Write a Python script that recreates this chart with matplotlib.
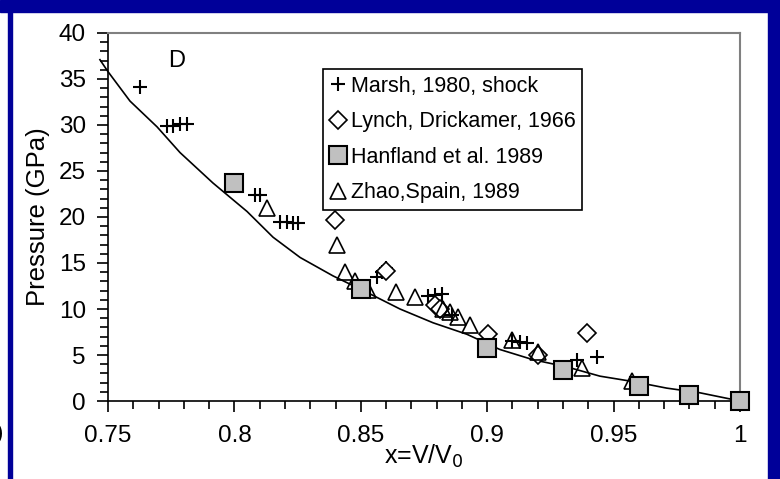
import matplotlib.pyplot as plt
from matplotlib.patches import Rectangle
from matplotlib.ticker import MultipleLocator

plt.rcParams['font.family'] = ['Liberation Sans', 'DejaVu Sans']

# fitted curve
curve_x = [0.7468, 0.75, 0.7587, 0.7694, 0.7785, 0.7915, 0.805, 0.8153, 0.826, 0.839,
           0.8525, 0.8655, 0.8786, 0.892, 0.905, 0.918, 0.9316, 0.9446, 0.958,
           0.971, 0.984, 1.0]
curve_p = [37.1, 35.8, 32.6, 29.8, 27.0, 23.7, 20.6, 17.8, 15.6, 13.6,
           11.8, 10.0, 8.5, 7.25, 5.6, 4.5, 3.7, 2.7, 2.1,
           1.4, 0.9, 0.0]

marsh_x = [0.7627, 0.7733, 0.7757, 0.7785, 0.7812, 0.8081, 0.8101, 0.818, 0.8208,
           0.8232, 0.8252, 0.8564, 0.8584, 0.86, 0.8766, 0.8794, 0.882, 0.886,
           0.910, 0.913, 0.9157, 0.9355, 0.9434]
marsh_p = [34.1, 29.9, 29.9, 30.1, 30.1, 22.4, 22.4, 19.5, 19.5,
           19.4, 19.4, 13.5, 14.0, 14.5, 11.4, 11.5, 11.6, 9.3,
           6.5, 6.4, 6.3, 4.5, 4.8]

lynch_x = [0.8398, 0.86, 0.8794, 0.8813, 0.9003, 0.92, 0.9395]
lynch_p = [19.7, 14.1, 10.4, 10.0, 7.3, 5.0, 7.4]

hanf_x = [0.80, 0.85, 0.90, 0.93, 0.96, 0.98, 1.00]
hanf_p = [23.7, 12.2, 5.8, 3.4, 1.6, 0.7, 0.0]

zhao_x = [0.8129, 0.8406, 0.8437, 0.8477, 0.8529, 0.8639, 0.8715, 0.8826, 0.8853,
          0.8884, 0.8932, 0.910, 0.92, 0.9375, 0.9573]
zhao_p = [21.0, 17.0, 14.0, 13.0, 12.1, 11.9, 11.3, 10.0, 9.7,
          9.1, 8.3, 6.6, 5.3, 3.6, 2.2]

xtick_pos = [0.75, 0.8, 0.85, 0.9, 0.95, 1.0]
xtick_lab = ['0.75', '0.8', '0.85', '0.9', '0.95', '1']

fig = plt.figure(figsize=(7.8, 4.79), dpi=100)
fig.patch.set_facecolor('white')
# blue slide frame
fig.patches.append(Rectangle((0, 1 - 12 / 479), 1, 12 / 479, transform=fig.transFigure,
                             color='#000099', zorder=0))
fig.patches.append(Rectangle((8 / 780, 0), 4 / 780, 1, transform=fig.transFigure,
                             color='#000099', zorder=0))
fig.patches.append(Rectangle((768 / 780, 0), 12 / 780, 1, transform=fig.transFigure,
                             color='#000099', zorder=0))
fig.text(3 / 780, 1 - 433 / 479, ')', fontsize=16, ha='right', va='center')

ax = fig.add_axes([108 / 780, 1 - 401 / 479, 632 / 780, 368 / 479])

ax.plot(curve_x, curve_p, color='black', lw=1.2, clip_on=False, zorder=2)
ax.plot(marsh_x, marsh_p, ls='none', marker='+', ms=10, mew=1.5, color='black',
        clip_on=False, zorder=3, label='Marsh, 1980, shock')
ax.plot(lynch_x, lynch_p, ls='none', marker='D', ms=9.5, mew=1.2, mfc='white',
        mec='black', clip_on=False, zorder=3, label='Lynch, Drickamer, 1966')
ax.plot(hanf_x, hanf_p, ls='none', marker='s', ms=13, mew=1.5, mfc='#c0c0c0',
        mec='black', clip_on=False, zorder=4, label='Hanfland et al. 1989')
ax.plot(zhao_x, zhao_p, ls='none', marker='^', ms=11, mew=1.2, mfc='none',
        mec='black', clip_on=False, zorder=3, label='Zhao,Spain, 1989')

ax.set_xlim(0.75, 1.0)
ax.set_ylim(0, 40)
ax.set_xticks(xtick_pos)
ax.set_xticklabels(xtick_lab)
ax.xaxis.set_minor_locator(MultipleLocator(0.01))
ax.yaxis.set_major_locator(MultipleLocator(5))
ax.yaxis.set_minor_locator(MultipleLocator(1))

ax.tick_params(which='both', direction='out', color='black', width=1.2, labelsize=17.5)
ax.tick_params(which='major', length=8)
ax.tick_params(which='minor', length=6)
ax.tick_params(axis='x', pad=9)
ax.tick_params(axis='y', pad=8)

for side in ['left', 'bottom']:
    ax.spines[side].set_color('black')
    ax.spines[side].set_linewidth(1.2)
for side in ['top', 'right']:
    ax.spines[side].set_color('#808080')
    ax.spines[side].set_linewidth(1.5)

ax.set_xlabel('x=V/V$_0$', fontsize=18, labelpad=-3)
ax.set_ylabel('Pressure (GPa)', fontsize=18.5, labelpad=6)

ax.text(0.777, 37, 'D', fontsize=17, ha='center', va='center')

leg = ax.legend(loc='upper left', bbox_to_anchor=(0.34, 0.902), fontsize=15.5,
                frameon=True, fancybox=False, edgecolor='black', framealpha=1,
                handlelength=0.8, handletextpad=0.2, borderpad=0.3,
                labelspacing=0.68, borderaxespad=0, numpoints=1)
leg.get_frame().set_linewidth(1.2)

fig.savefig('out.png', dpi=100, facecolor=fig.get_facecolor())
